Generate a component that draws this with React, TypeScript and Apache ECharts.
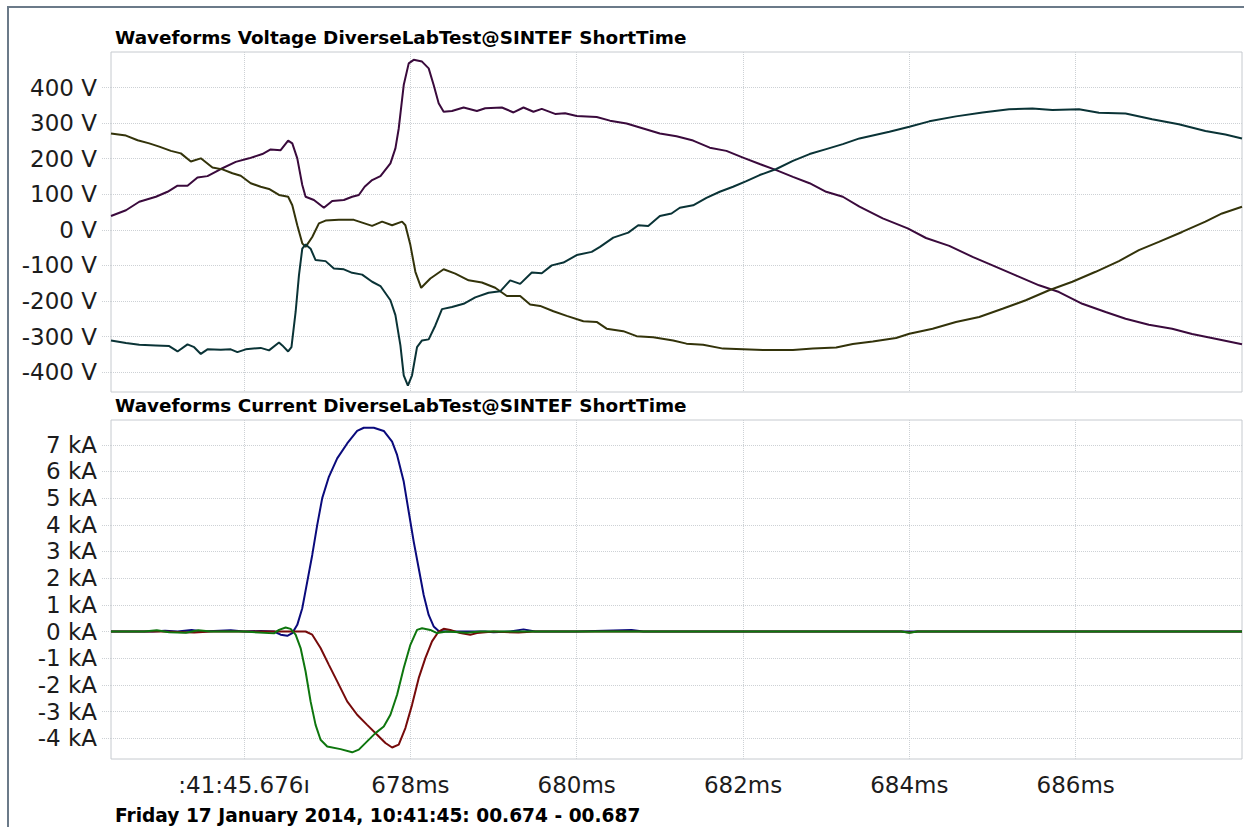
import React, { useEffect, useRef } from "react";
import * as echarts from "echarts";

// ---- axis ticks ----
const timeTicks = [676, 678, 680, 682, 684, 686];
const voltTicks = [-400, -300, -200, -100, 0, 100, 200, 300, 400];
const currentTicks = [-4, -3, -2, -1, 0, 1, 2, 3, 4, 5, 6, 7];

// ---- titles ----
const voltageTitle = "Waveforms Voltage DiverseLabTest@SINTEF ShortTime";
const currentTitle = "Waveforms Current DiverseLabTest@SINTEF ShortTime";
const footerText = "Friday 17 January 2014, 10:41:45: 00.674 - 00.687";

// ---- voltage series: [time ms, volts] ----
const voltA: [number, number][] = [
  [674.4, 39], [674.58, 55], [674.74, 79], [674.94, 93], [675.08, 107], [675.2, 124], [675.32, 124],
  [675.44, 147], [675.56, 151], [675.72, 171], [675.9, 191], [676.06, 201], [676.22, 213], [676.32, 226],
  [676.44, 224], [676.53, 251], [676.58, 243], [676.64, 201], [676.7, 126], [676.74, 93], [676.84, 84],
  [676.96, 62], [677.06, 81], [677.2, 84], [677.3, 93], [677.38, 98], [677.45, 121], [677.54, 140],
  [677.64, 151], [677.76, 187], [677.82, 229], [677.86, 285], [677.92, 407], [677.98, 468], [678.04, 478],
  [678.14, 473], [678.22, 454], [678.28, 407], [678.34, 356], [678.4, 332], [678.5, 334], [678.64, 344],
  [678.8, 334], [678.9, 342], [679.1, 344], [679.24, 330], [679.36, 344], [679.48, 332], [679.58, 340],
  [679.74, 326], [679.86, 328], [680.0, 320], [680.24, 317], [680.4, 307], [680.6, 299], [680.8, 285],
  [681.0, 271], [681.2, 263], [681.4, 251], [681.6, 231], [681.8, 222], [682.0, 203], [682.2, 185],
  [682.4, 168], [682.6, 149], [682.8, 131], [683.0, 107], [683.2, 93], [683.4, 65], [683.68, 32],
  [683.98, 4], [684.2, -23], [684.48, -45], [684.76, -76], [685.0, -100], [685.28, -128], [685.56, -156],
  [685.8, -175], [686.08, -208], [686.36, -231], [686.6, -250], [686.88, -267], [687.16, -278],
  [687.4, -293], [687.68, -306], [688.0, -322],
];

const voltB: [number, number][] = [
  [674.4, 271], [674.58, 265], [674.72, 252], [674.86, 243], [674.98, 234], [675.12, 222], [675.24, 215],
  [675.36, 192], [675.48, 201], [675.62, 175], [675.74, 170], [675.86, 159], [675.96, 152], [676.08, 131],
  [676.2, 121], [676.3, 115], [676.42, 98], [676.53, 93], [676.58, 69], [676.64, 13], [676.7, -38],
  [676.74, -48], [676.82, -20], [676.9, 18], [676.98, 26], [677.14, 28], [677.32, 28], [677.54, 11],
  [677.66, 23], [677.78, 13], [677.9, 23], [677.94, 13], [678.0, -43], [678.06, -118], [678.13, -163],
  [678.24, -137], [678.4, -111], [678.54, -123], [678.7, -142], [678.86, -148], [679.02, -163],
  [679.16, -186], [679.32, -186], [679.44, -210], [679.56, -214], [679.72, -229], [679.88, -242],
  [680.08, -257], [680.24, -259], [680.36, -278], [680.56, -285], [680.72, -299], [680.92, -302],
  [681.16, -311], [681.32, -320], [681.52, -323], [681.76, -334], [682.0, -336], [682.24, -338],
  [682.6, -338], [682.84, -334], [683.12, -331], [683.32, -321], [683.56, -314], [683.84, -304],
  [684.0, -292], [684.28, -278], [684.56, -259], [684.84, -245], [685.12, -222], [685.4, -198],
  [685.68, -170], [685.96, -146], [686.24, -118], [686.52, -88], [686.76, -57], [687.0, -34],
  [687.28, -6], [687.56, 23], [687.76, 46], [688.0, 65],
];

const voltC: [number, number][] = [
  [674.4, -311], [674.58, -318], [674.74, -323], [674.94, -325], [675.1, -327], [675.2, -342],
  [675.32, -322], [675.4, -330], [675.48, -349], [675.56, -336], [675.72, -337], [675.84, -336],
  [675.92, -344], [676.02, -336], [676.2, -332], [676.3, -339], [676.42, -317], [676.46, -325],
  [676.53, -342], [676.57, -330], [676.62, -231], [676.66, -128], [676.7, -53], [676.74, -41],
  [676.8, -53], [676.86, -85], [676.98, -88], [677.08, -109], [677.2, -111], [677.3, -121],
  [677.42, -126], [677.54, -146], [677.64, -158], [677.76, -198], [677.82, -240], [677.88, -325],
  [677.92, -409], [677.97, -438], [678.02, -409], [678.08, -330], [678.14, -311], [678.22, -308],
  [678.3, -269], [678.38, -223], [678.5, -217], [678.64, -208], [678.78, -190], [678.94, -177],
  [679.08, -173], [679.2, -142], [679.32, -152], [679.46, -120], [679.58, -122], [679.7, -100],
  [679.84, -92], [680.0, -71], [680.18, -62], [680.28, -48], [680.44, -22], [680.62, -8],
  [680.74, 13], [680.86, 11], [681.0, 39], [681.14, 46], [681.24, 62], [681.4, 69], [681.56, 90],
  [681.72, 107], [681.88, 121], [682.04, 137], [682.2, 154], [682.4, 171], [682.6, 194], [682.8, 213],
  [683.0, 227], [683.2, 241], [683.4, 257], [683.76, 276], [684.0, 290], [684.24, 305], [684.56, 319],
  [684.88, 330], [685.2, 339], [685.48, 341], [685.72, 337], [686.04, 339], [686.28, 329],
  [686.6, 327], [686.92, 311], [687.24, 297], [687.56, 278], [687.8, 268], [688.0, 257],
];

// ---- current series: [time ms, kA] ----
const currentA: [number, number][] = [
  [674.4, 0], [674.9, 0], [675.05, 0.03], [675.2, 0], [675.37, 0.06], [675.5, 0], [675.84, 0.05],
  [676.0, 0], [676.2, 0.02], [676.36, 0], [676.44, -0.12], [676.52, -0.16], [676.58, -0.06],
  [676.64, 0.25], [676.7, 0.87], [676.76, 1.87], [676.82, 2.87], [676.88, 4.0], [676.94, 5.0],
  [677.02, 5.8], [677.12, 6.49], [677.24, 7.05], [677.36, 7.52], [677.44, 7.64], [677.56, 7.64],
  [677.68, 7.52], [677.78, 7.12], [677.84, 6.62], [677.92, 5.62], [677.98, 4.49], [678.04, 3.37],
  [678.1, 2.37], [678.16, 1.37], [678.22, 0.62], [678.28, 0.19], [678.34, 0.02], [678.44, 0],
  [678.9, 0], [679.0, -0.03], [679.2, 0], [679.36, 0.08], [679.5, 0], [680.0, 0], [680.66, 0.06],
  [680.8, 0], [682.0, 0], [684.0, 0], [686.0, 0], [688.0, 0],
];

const currentB: [number, number][] = [
  [674.4, 0], [675.0, 0], [675.4, -0.04], [675.6, 0], [676.56, 0], [676.74, 0], [676.82, -0.12],
  [676.92, -0.62], [677.02, -1.25], [677.12, -1.87], [677.24, -2.62], [677.36, -3.12], [677.48, -3.5],
  [677.6, -3.87], [677.7, -4.18], [677.78, -4.35], [677.86, -4.24], [677.94, -3.62], [678.02, -2.75],
  [678.1, -1.75], [678.18, -1.0], [678.26, -0.37], [678.34, 0], [678.4, 0.1], [678.48, 0.06],
  [678.6, -0.06], [678.72, -0.12], [678.8, -0.06], [679.0, 0], [679.3, -0.04], [679.5, 0],
  [683.9, 0], [684.0, -0.04], [684.1, 0], [688.0, 0],
];

const currentC: [number, number][] = [
  [674.4, 0], [674.8, 0], [674.95, 0.05], [675.1, -0.03], [675.3, -0.05], [675.45, 0.05], [675.6, 0],
  [676.0, 0], [676.36, -0.07], [676.42, 0.06], [676.5, 0.15], [676.56, 0.1], [676.62, -0.12],
  [676.68, -0.62], [676.74, -1.5], [676.8, -2.62], [676.86, -3.5], [676.92, -4.06], [677.0, -4.31],
  [677.16, -4.41], [677.3, -4.53], [677.38, -4.43], [677.48, -4.12], [677.58, -3.81], [677.68, -3.56],
  [677.76, -3.12], [677.84, -2.37], [677.92, -1.37], [678.0, -0.5], [678.08, 0.06], [678.14, 0.12],
  [678.24, 0.06], [678.32, -0.06], [678.44, 0], [678.68, -0.05], [678.84, 0], [683.9, 0],
  [684.0, -0.05], [684.1, 0], [688.0, 0],
];

const FONT = "'DejaVu Sans', Verdana, sans-serif";
const GRID_LINE = { color: "#cdd1d5", type: "dotted" as const, width: 1 };

export default function App() {
  const ref = useRef<HTMLDivElement>(null);

  useEffect(() => {
    if (!ref.current) return;
    const chart = echarts.init(ref.current, undefined, { renderer: "svg" });

    const lineSeries = (name: string, data: [number, number][], color: string, idx: number) => ({
      name,
      type: "line",
      data,
      xAxisIndex: idx,
      yAxisIndex: idx,
      showSymbol: false,
      symbol: "none",
      lineStyle: { color, width: 2 },
      emphasis: { disabled: true },
      silent: true,
      z: 3,
    });

    const xBase = (gridIndex: number, showLabels: boolean) => ({
      type: "value",
      gridIndex,
      min: 674.4,
      max: 688,
      axisLine: { show: false },
      axisTick: {
        show: showLabels,
        customValues: timeTicks,
        length: 7,
        lineStyle: GRID_LINE,
      },
      splitLine: { show: true, lineStyle: GRID_LINE },
      axisLabel: {
        show: showLabels,
        customValues: timeTicks,
        margin: 14,
        fontFamily: FONT,
        fontSize: 23,
        color: "#1c1c1c",
        formatter: (v: number) => (Math.abs(v - 676) < 1e-6 ? ":41:45.676ı" : `${Math.round(v)}ms`),
      },
    });

    const titleFont = `bold 18.4px ${FONT}`;

    chart.setOption({
      animation: false,
      backgroundColor: "#ffffff",
      grid: [
        { left: 111, top: 52, width: 1131, height: 340, show: true, borderColor: "#c6cacf", borderWidth: 1, backgroundColor: "transparent" },
        { left: 111, top: 420, width: 1131, height: 339, show: true, borderColor: "#c6cacf", borderWidth: 1, backgroundColor: "transparent" },
      ],
      xAxis: [xBase(0, false), xBase(1, true)],
      yAxis: [
        {
          type: "value",
          gridIndex: 0,
          min: -456,
          max: 500,
          axisLine: { show: false },
          axisTick: { show: true, customValues: voltTicks, length: 10, lineStyle: GRID_LINE },
          splitLine: { show: true, lineStyle: GRID_LINE },
          axisLabel: {
            customValues: voltTicks,
            margin: 14,
            fontFamily: FONT,
            fontSize: 23,
            color: "#1c1c1c",
            formatter: (v: number) => `${v} V`,
          },
        },
        {
          type: "value",
          gridIndex: 1,
          min: -4.78,
          max: 7.93,
          axisLine: { show: false },
          axisTick: { show: true, customValues: currentTicks, length: 10, lineStyle: GRID_LINE },
          splitLine: { show: true, lineStyle: GRID_LINE },
          axisLabel: {
            customValues: currentTicks,
            margin: 14,
            fontFamily: FONT,
            fontSize: 23,
            color: "#1c1c1c",
            formatter: (v: number) => `${v} kA`,
          },
        },
      ],
      graphic: [
        {
          type: "rect",
          shape: { x: 8, y: 7, width: 1400, height: 1000 },
          style: { fill: "none", stroke: "#6b7a89", lineWidth: 2 },
          silent: true,
          z: 100,
        },
        {
          type: "text",
          x: 115,
          y: 37.5,
          style: { text: voltageTitle, font: titleFont, fill: "#000", textVerticalAlign: "middle" },
          silent: true,
        },
        {
          type: "text",
          x: 115,
          y: 405.5,
          style: { text: currentTitle, font: titleFont, fill: "#000", textVerticalAlign: "middle" },
          silent: true,
        },
        {
          type: "text",
          x: 115,
          y: 815.5,
          style: { text: footerText, font: `bold 18.6px ${FONT}`, fill: "#000", textVerticalAlign: "middle" },
          silent: true,
        },
      ],
      series: [
        lineSeries("Voltage L1", voltA, "#3a0a3c", 0),
        lineSeries("Voltage L2", voltB, "#33330a", 0),
        lineSeries("Voltage L3", voltC, "#0a3336", 0),
        lineSeries("Current L1", currentA, "#0a0a7c", 1),
        lineSeries("Current L2", currentB, "#760a0a", 1),
        lineSeries("Current L3", currentC, "#0e760e", 1),
      ],
    });

    return () => chart.dispose();
  }, []);

  return (
    <div
      ref={ref}
      style={{ position: "absolute", left: 0, top: 0, width: 1244, height: 827, background: "#fff" }}
    />
  );
}
